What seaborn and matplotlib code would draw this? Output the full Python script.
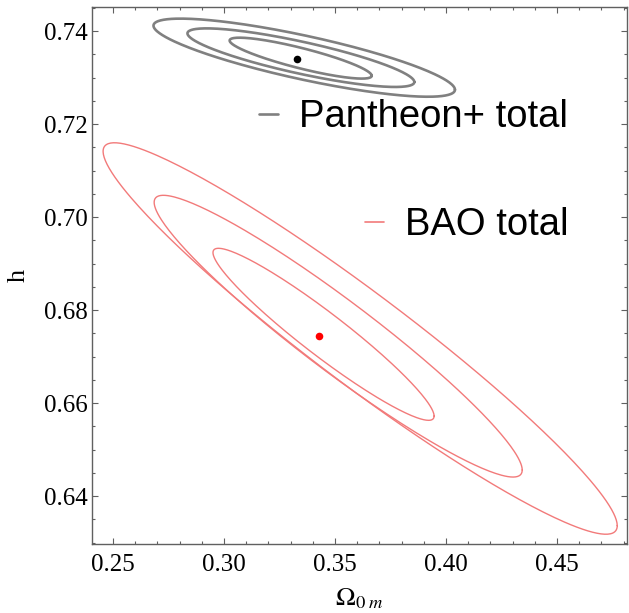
"""
Confidence contours in the (Omega_0m, h) plane for Pantheon+ and BAO.
Each contour is drawn as an ellipse read off the reference figure.
"""

import matplotlib.pyplot as plt
import numpy as np
import pandas as pd
import seaborn as sns
from matplotlib.ticker import MultipleLocator

# contour ellipses (inner = 1 sigma, middle = 2 sigma, outer = 3 sigma)
pan_cx = [0.3345, 0.3346, 0.3361]
pan_cy = [0.7342, 0.7343, 0.7343]
pan_half_x = [0.0320, 0.0511, 0.0679]
pan_half_y = [0.0044, 0.0063, 0.0084]
pan_rho = [-0.86, -0.83, -0.82]
pan_best = (0.3327, 0.7341)

bao_cx = [0.3448, 0.3514, 0.3613]
bao_cy = [0.6748, 0.6744, 0.6739]
bao_half_x = [0.0498, 0.0829, 0.1158]
bao_half_y = [0.0185, 0.0303, 0.0421]
bao_rho = [-0.95, -0.95, -0.956]
bao_best = (0.3428, 0.6744)

GRAY = '#808080'
PINK = '#f27a7a'


def ellipse_frame(cx, cy, hx, hy, rho, n=300):
    """Points on an ellipse with given centre, half extents and correlation."""
    t = np.linspace(0, 2 * np.pi, n)
    delta = np.arccos(rho)
    return pd.DataFrame({'x': cx + hx * np.cos(t), 'y': cy + hy * np.cos(t - delta)})


sns.set_style('ticks')
plt.rcParams['font.family'] = ['Liberation Serif', 'DejaVu Serif']
plt.rcParams['mathtext.fontset'] = 'stix'
plt.rcParams['text.color'] = 'black'
plt.rcParams['axes.labelcolor'] = 'black'

fig = plt.figure(figsize=(6.29, 6.13), dpi=100)
ax = fig.add_axes([92 / 629, 1 - 544 / 613, 535 / 629, 537 / 613])

for cx, cy, hx, hy, r in zip(pan_cx, pan_cy, pan_half_x, pan_half_y, pan_rho):
    sns.lineplot(data=ellipse_frame(cx, cy, hx, hy, r), x='x', y='y', sort=False,
                 estimator=None, color=GRAY, linewidth=1.9, ax=ax)
for cx, cy, hx, hy, r in zip(bao_cx, bao_cy, bao_half_x, bao_half_y, bao_rho):
    sns.lineplot(data=ellipse_frame(cx, cy, hx, hy, r), x='x', y='y', sort=False,
                 estimator=None, color=PINK, linewidth=1.0, ax=ax)

sns.scatterplot(x=[pan_best[0]], y=[pan_best[1]], color='black', s=30, linewidth=0, ax=ax)
sns.scatterplot(x=[bao_best[0]], y=[bao_best[1]], color='#ff0000', s=30, linewidth=0, ax=ax)

ax.set_xlim(0.2405, 0.4815)
ax.set_ylim(0.6297, 0.7452)

ax.xaxis.set_major_locator(MultipleLocator(0.05))
ax.xaxis.set_minor_locator(MultipleLocator(0.01))
ax.yaxis.set_major_locator(MultipleLocator(0.02))
ax.yaxis.set_minor_locator(MultipleLocator(0.005))
ax.xaxis.set_major_formatter(lambda v, pos: f'{v:.2f}')
ax.yaxis.set_major_formatter(lambda v, pos: f'{v:.2f}')

for side in ax.spines.values():
    side.set_color('#606060')
    side.set_linewidth(1.0)
ax.tick_params(which='both', direction='in', top=True, right=True, color='#606060',
               width=0.8, labelcolor='black')
ax.tick_params(which='major', length=4.5, labelsize=18, pad=7)
ax.tick_params(which='minor', length=2.5)
ax.tick_params(axis='y', which='major', pad=3)

ax.set_xlabel(r'$\Omega_{0\ m}$', fontsize=19, labelpad=8)
ax.set_ylabel('h', fontsize=19, labelpad=10)

# legend entries, one per data set
leg_kw = dict(frameon=False, handlelength=0.5, handletextpad=0.55, borderpad=0,
              borderaxespad=0, loc='center right', labelcolor='black',
              prop={'family': 'Liberation Sans', 'size': 27.5})
h_pan = plt.Line2D([], [], color=GRAY, linewidth=1.9)
h_bao = plt.Line2D([], [], color=PINK, linewidth=1.2)
leg1 = ax.legend([h_pan], ['Pantheon+ total'], bbox_to_anchor=(0.89, 0.795), **leg_kw)
ax.add_artist(leg1)
ax.legend([h_bao], ['BAO total'], bbox_to_anchor=(0.89, 0.594), **leg_kw)

fig.savefig('out.png', dpi=100)
plt.close(fig)
